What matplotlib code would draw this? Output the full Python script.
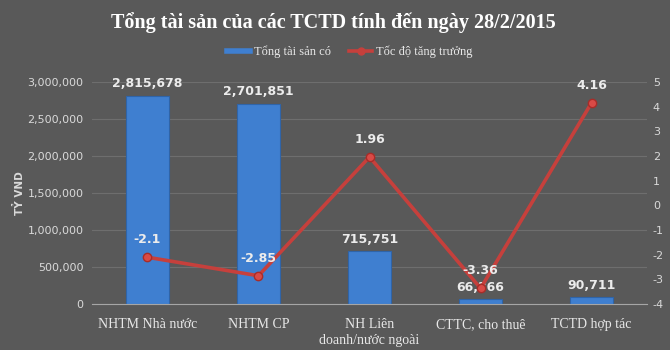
import matplotlib.pyplot as plt
import numpy as np

plt.rcParams["axes.unicode_minus"] = False

categories = ["NHTM Nhà nước", "NHTM CP", "NH Liên\ndoanh/nước ngoài", "CTTC, cho thuê", "TCTD hợp tác"]
assets = [2815678, 2701851, 715751, 66366, 90711]
growth = [-2.1, -2.85, 1.96, -3.36, 4.16]

bg = "#595959"
txt = "#d9d9d9"
blue = "#3f7fd0"
red = "#c6403c"

fig = plt.figure(figsize=(6.7, 3.5), dpi=100, facecolor=bg)
ax = fig.add_axes([0.137, 0.131, 0.829, 0.635], facecolor=bg)
x = np.arange(len(categories))

bars = ax.bar(x, assets, width=0.39, color=blue, edgecolor="#2f64a8", linewidth=0.8, zorder=2)
ax.set_ylim(0, 3000000)
ax.set_xlim(-0.5, len(categories) - 0.5)
ax.set_yticks(np.arange(0, 3000001, 500000))
ax.set_yticklabels([f"{v:,}" for v in range(0, 3000001, 500000)], color=txt, fontsize=8)
ax.yaxis.grid(True, color="#6e6e6e", linewidth=0.8, zorder=0)
ax.set_axisbelow(True)
for s in ["top", "right", "left"]:
    ax.spines[s].set_visible(False)
ax.spines["bottom"].set_color("#a6a6a6")
ax.tick_params(axis="y", length=0, pad=6)
ax.tick_params(axis="x", length=0, pad=10)
ax.set_xticks(x)
ax.set_xticklabels(categories, fontsize=10, color="#e8e8e8", family="Liberation Serif", linespacing=1.3)
ax.set_ylabel("TỶ VND", color=txt, fontsize=7.5, fontweight="bold", labelpad=2)

for xi, v in zip(x, assets):
    ax.text(xi, v + 75000, f"{v:,}", ha="center", va="bottom", color="#ececec",
            fontsize=9, fontweight="bold")

ax2 = ax.twinx()
ax2.set_ylim(-4, 5)
ax2.set_yticks(range(-4, 6))
ax2.set_yticklabels([str(v) for v in range(-4, 6)], color=txt, fontsize=8)
ax2.tick_params(axis="y", length=0, pad=4)
for s in ax2.spines.values():
    s.set_visible(False)
ax2.plot(x, growth, color=red, linewidth=2.6, marker="o", markersize=6,
         markerfacecolor="#d94a46", markeredgecolor="#a82c28", zorder=3)
for xi, g in zip(x, growth):
    ax2.text(xi, g + 0.45, f"{g:g}", ha="center", va="bottom", color="#ececec",
             fontsize=9, fontweight="bold")

fig.text(0.497, 0.935, "Tổng tài sản của các TCTD tính đến ngày 28/2/2015", ha="center", va="center",
         color="white", fontsize=14.5, fontweight="bold", family="Liberation Serif")

handles = [plt.Line2D([], [], color=blue, linewidth=4),
           plt.Line2D([], [], color=red, linewidth=2.6, marker="o", markersize=5)]
fig.legend(handles, ["Tổng tài sản có", "Tốc độ tăng trưởng"], loc="center", bbox_to_anchor=(0.522, 0.851),
           ncol=2, frameon=False, handlelength=1.8, handletextpad=0.3, columnspacing=1.5,
           prop={"family": "Liberation Serif", "size": 9}, labelcolor="#e8e8e8")

fig.savefig("out.png", dpi=100, facecolor=bg)
